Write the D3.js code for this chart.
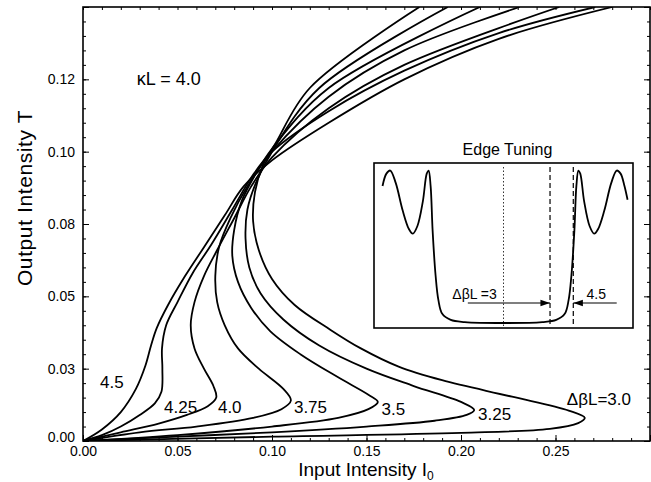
<!DOCTYPE html>
<html>
<head>
<meta charset="utf-8">
<script src="https://cdn.jsdelivr.net/npm/d3@7"></script>
<style>
body { margin: 0; background: #fff; }
text { font-family: "Liberation Sans", Arial, Helvetica, sans-serif; fill: #000; }
.axis path { display: none; }
.axis line { stroke: #000; stroke-width: 1; }
.curve { fill: none; stroke: #000; stroke-width: 1.8; }
</style>
</head>
<body>
<svg id="chart" width="651" height="482"></svg>
<script>
// axis ticks
var xTicks = [0, 0.05, 0.10, 0.15, 0.20, 0.25, 0.30];
var xTickLabels = ['0.00', '0.05', '0.10', '0.15', '0.20', '0.25', ''];
var yTicks = [0, 0.025, 0.05, 0.075, 0.10, 0.125, 0.15];
var yTickLabels = ['0.00', '0.03', '0.05', '0.08', '0.10', '0.12', ''];

// output intensity T vs input intensity I0, one list per detuning
var detuning = ['4.5', '4.25', '4.0', '3.75', '3.5', '3.25', 'ΔβL=3.0'];
var curve45 = [[0,0],[0.01,0.004],[0.02,0.010],[0.028,0.018],[0.033,0.026],[0.036,0.033],[0.039,0.039],[0.045,0.047],[0.054,0.057],[0.064,0.067],[0.075,0.078],[0.085,0.088],[0.10,0.097],[0.13,0.110],[0.17,0.125],[0.22,0.139],[0.28,0.150]];
var curve425 = [[0,0],[0.01,0.002],[0.02,0.005],[0.03,0.009],[0.038,0.013],[0.0415,0.017],[0.042,0.025],[0.0418,0.032],[0.044,0.040],[0.050,0.048],[0.058,0.058],[0.068,0.068],[0.079,0.080],[0.090,0.092],[0.10,0.100],[0.13,0.114],[0.17,0.128],[0.22,0.141],[0.271,0.150]];
var curve40 = [[0,0],[0.02,0.003],[0.04,0.006],[0.055,0.009],[0.066,0.012],[0.0705,0.015],[0.069,0.019],[0.064,0.025],[0.059,0.032],[0.057,0.040],[0.059,0.048],[0.064,0.057],[0.071,0.066],[0.080,0.077],[0.089,0.088],[0.10,0.098],[0.13,0.115],[0.17,0.130],[0.252,0.150]];
var curve375 = [[0,0],[0.03,0.003],[0.06,0.005],[0.09,0.008],[0.105,0.011],[0.110,0.014],[0.106,0.018],[0.093,0.025],[0.082,0.032],[0.075,0.040],[0.071,0.048],[0.070,0.057],[0.072,0.067],[0.078,0.077],[0.087,0.088],[0.10,0.100],[0.13,0.119],[0.17,0.135],[0.231,0.150]];
var curve35 = [[0,0],[0.05,0.002],[0.10,0.005],[0.135,0.008],[0.151,0.011],[0.156,0.0135],[0.151,0.016],[0.135,0.022],[0.115,0.030],[0.099,0.038],[0.089,0.046],[0.082,0.055],[0.079,0.064],[0.080,0.073],[0.084,0.083],[0.092,0.093],[0.10,0.101],[0.13,0.122],[0.21,0.150]];
var curve325 = [[0,0],[0.05,0.0015],[0.10,0.003],[0.15,0.005],[0.186,0.007],[0.203,0.009],[0.207,0.0107],[0.200,0.0135],[0.175,0.019],[0.150,0.025],[0.125,0.033],[0.106,0.042],[0.094,0.051],[0.088,0.060],[0.086,0.070],[0.087,0.080],[0.092,0.090],[0.10,0.100],[0.125,0.122],[0.193,0.150]];
var curve30 = [[0,0],[0.10,0.0015],[0.20,0.0028],[0.247,0.0042],[0.262,0.0062],[0.2655,0.008],[0.257,0.0105],[0.227,0.0153],[0.190,0.021],[0.167,0.0257],[0.147,0.032],[0.131,0.0384],[0.112,0.047],[0.100,0.056],[0.093,0.066],[0.090,0.076],[0.091,0.086],[0.095,0.095],[0.102,0.103],[0.120,0.122],[0.178,0.150]];

// inset: transmission spectrum vs detuning
var specDetuning = [-7.8,-7.55,-7.3,-6.95,-6.5,-6.1,-5.85,-5.55,-5.2,-4.95,-4.83,-4.7,-4.57,-4.38,-4.2,-3.95,-3.4,-2.5,0,2.5,3.4,3.95,4.2,4.38,4.57,4.7,4.83,4.95,5.2,5.55,5.85,6.1,6.5,6.95,7.3,7.55,7.8,8.0];
var specTrans = [0.89,0.97,0.99,0.91,0.73,0.61,0.58,0.63,0.79,0.97,0.99,0.89,0.60,0.31,0.15,0.06,0.02,0.006,0,0.006,0.02,0.06,0.15,0.31,0.60,0.89,0.99,0.97,0.79,0.63,0.58,0.61,0.73,0.91,0.99,0.97,0.89,0.80];
var markDetuning = [0, 3, 4.5];

var svg = d3.select('#chart');
var margin = {top: 7, right: 1, bottom: 41, left: 83};
var width = 651 - margin.left - margin.right;
var height = 482 - margin.top - margin.bottom;

var x = d3.scaleLinear().domain([0, 0.30]).range([0, width]);
var y = d3.scaleLinear().domain([0, 0.15]).range([height, 0]);

var g = svg.append('g')
    .attr('transform', 'translate(' + margin.left + ',' + margin.top + ')');

var xMinor = d3.range(0, 31).map(function(i){ return i / 100; });
var yMinor = d3.range(0, 31).map(function(i){ return i * 0.005; });

// minor ticks, all four sides, pointing inward
g.append('g').attr('class', 'axis').attr('transform', 'translate(0,' + height + ')')
    .call(d3.axisBottom(x).tickValues(xMinor).tickSize(-3).tickFormat(''));
g.append('g').attr('class', 'axis')
    .call(d3.axisTop(x).tickValues(xMinor).tickSize(-3).tickFormat(''));
g.append('g').attr('class', 'axis')
    .call(d3.axisLeft(y).tickValues(yMinor).tickSize(-3).tickFormat(''));
g.append('g').attr('class', 'axis').attr('transform', 'translate(' + width + ',0)')
    .call(d3.axisRight(y).tickValues(yMinor).tickSize(-3).tickFormat(''));

// major ticks
g.append('g').attr('class', 'axis x-axis').attr('transform', 'translate(0,' + height + ')')
    .call(d3.axisBottom(x).tickValues(xTicks).tickSize(-6).tickPadding(5)
        .tickFormat(function(d, i){ return xTickLabels[i]; }))
    .selectAll('text').style('font-size', '14px');
var yAxis = g.append('g').attr('class', 'axis y-axis')
    .call(d3.axisLeft(y).tickValues(yTicks).tickSize(-6).tickPadding(8)
        .tickFormat(function(d, i){ return yTickLabels[i]; }));
yAxis.selectAll('text').style('font-size', '14px');
// the 0.00 label sits a little above its tick, clear of the x labels
yAxis.selectAll('text').filter(function(d){ return d === 0; }).attr('dy', '0');
g.append('g').attr('class', 'axis').attr('transform', 'translate(' + width + ',0)')
    .call(d3.axisRight(y).tickValues(yTicks).tickSize(-6).tickFormat(''));

g.append('rect')
    .attr('width', width).attr('height', height)
    .attr('fill', 'none').attr('stroke', '#000').attr('stroke-width', 1.6);

// curves
g.append('clipPath').attr('id', 'plotClip')
  .append('rect').attr('width', width).attr('height', height);

var line = d3.line()
    .x(function(d){ return x(d[0]); })
    .y(function(d){ return y(d[1]); })
    .curve(d3.curveCatmullRom.alpha(0.5));

var curves = [curve45, curve425, curve40, curve375, curve35, curve325, curve30];
g.append('g').attr('clip-path', 'url(#plotClip)')
  .selectAll('.curve')
  .data(curves)
  .enter().append('path')
    .attr('class', 'curve')
    .attr('d', line);

// curve labels, anchored in data units
var labelAt = [[0.009, 0.0183], [0.0429, 0.0097], [0.0714, 0.0097], [0.1116, 0.0097], [0.158, 0.009], [0.209, 0.0073], [0.256, 0.0124]];
g.selectAll('.clabel')
  .data(detuning)
  .enter().append('text')
    .attr('class', 'clabel')
    .attr('x', function(d, i){ return x(labelAt[i][0]); })
    .attr('y', function(d, i){ return y(labelAt[i][1]); })
    .style('font-size', '17px')
    .text(function(d){ return d; });

g.append('text')
    .attr('x', x(0.0285)).attr('y', y(0.1229))
    .style('font-size', '18px')
    .text('κL = 4.0');

// axis titles
svg.append('text')
    .attr('x', 366).attr('y', 476)
    .attr('text-anchor', 'middle')
    .style('font-size', '19px')
    .text('Input Intensity I')
  .append('tspan')
    .attr('dy', 4).style('font-size', '12px')
    .text('0');

svg.append('text')
    .attr('transform', 'translate(32,198) rotate(-90)')
    .attr('text-anchor', 'middle')
    .style('font-size', '21px')
    .style('letter-spacing', '0.6px')
    .text('Output Intensity T');

// inset
var inset = {left: 374, top: 163, right: 633, bottom: 328};
var ix = d3.scaleLinear().domain([-8.35, 8.35]).range([inset.left, inset.right]);
var iy = d3.scaleLinear().domain([0, 1]).range([323, 169]);

svg.append('text')
    .attr('x', (inset.left + inset.right) / 2 + 4).attr('y', 155)
    .attr('text-anchor', 'middle')
    .style('font-size', '16px')
    .text('Edge Tuning');

svg.append('rect')
    .attr('x', inset.left).attr('y', inset.top)
    .attr('width', inset.right - inset.left).attr('height', inset.bottom - inset.top)
    .attr('fill', '#fff').attr('stroke', '#000').attr('stroke-width', 1.6);

svg.selectAll('.mark')
  .data(markDetuning)
  .enter().append('line')
    .attr('class', 'mark')
    .attr('x1', function(d){ return ix(d); }).attr('x2', function(d){ return ix(d); })
    .attr('y1', inset.top + 4).attr('y2', inset.bottom - 2)
    .attr('stroke', '#000')
    .attr('stroke-width', function(d){ return d === 0 ? 0.8 : 1.2; })
    .attr('stroke-dasharray', function(d){ return d === 0 ? '1.5,2' : '5,3'; });

var specLine = d3.line()
    .x(function(d, i){ return ix(specDetuning[i]); })
    .y(function(d){ return iy(d); })
    .curve(d3.curveCatmullRom.alpha(0.5));
svg.append('path')
    .datum(specTrans)
    .attr('class', 'curve')
    .attr('d', specLine);

svg.append('defs').append('marker')
    .attr('id', 'arrow').attr('viewBox', '0 0 10 10')
    .attr('refX', 10).attr('refY', 5)
    .attr('markerWidth', 8).attr('markerHeight', 8)
    .attr('orient', 'auto-start-reverse')
  .append('path').attr('d', 'M0,1.5L10,5L0,8.5z').attr('fill', '#000');

svg.append('line')
    .attr('x1', ix(-2.3)).attr('x2', ix(3)).attr('y1', 303).attr('y2', 303)
    .attr('stroke', '#000').attr('stroke-width', 1.2)
    .attr('marker-end', 'url(#arrow)');
svg.append('line')
    .attr('x1', ix(7.3)).attr('x2', ix(4.5)).attr('y1', 303).attr('y2', 303)
    .attr('stroke', '#000').attr('stroke-width', 1.2)
    .attr('marker-end', 'url(#arrow)');

svg.append('text')
    .attr('x', ix(-3.3)).attr('y', 299)
    .style('font-size', '14px')
    .text('ΔβL =3');
svg.append('text')
    .attr('x', ix(5.35)).attr('y', 299)
    .style('font-size', '14px')
    .text('4.5');
</script>
</body>
</html>
